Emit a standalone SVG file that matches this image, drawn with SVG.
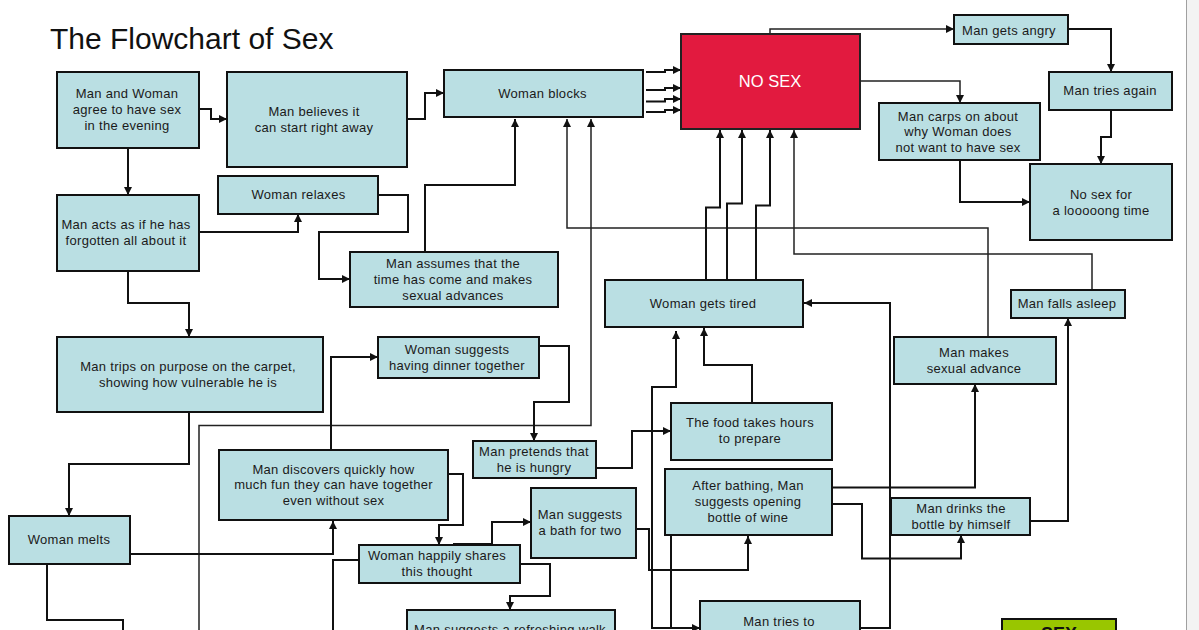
<svg xmlns="http://www.w3.org/2000/svg" width="1199" height="630" viewBox="0 0 1199 630">
<style>
.box{fill:#badfe3;stroke:#111;stroke-width:2}
.t{font-family:"Liberation Sans",Arial,sans-serif;font-size:13px;letter-spacing:0.3px;fill:#1a1a1a;text-anchor:middle}
.c{fill:none;stroke:#111;stroke-width:2}
.thin{stroke-width:1.5;stroke:#222}
</style>
<defs>
<marker id="a" viewBox="0 0 10 10" refX="10" refY="5" markerWidth="8" markerHeight="8" markerUnits="userSpaceOnUse" orient="auto">
<path d="M0,0 L10,5 L0,10 z" fill="#111"/>
</marker>
</defs>
<rect x="0" y="0" width="1199" height="630" fill="#fff"/>
<rect x="1187" y="0" width="12" height="630" fill="#f3f3f3"/>
<line x1="1186.5" y1="0" x2="1186.5" y2="630" stroke="#a0a0a0" stroke-width="1"/>
<text x="50" y="49" font-family="'Liberation Sans',Arial,sans-serif" font-size="30" fill="#111">The Flowchart of Sex</text>

<g id="connectors">
<path class="c" marker-end="url(#a)" d="M199,109 H211 V119 H227"/>
<path class="c" marker-end="url(#a)" d="M407,119 H425 V93 H444"/>
<path class="c" marker-end="url(#a)" d="M646,72 H665 V70 H681"/>
<path class="c" marker-end="url(#a)" d="M646,90 H665 V88 H681"/>
<path class="c" marker-end="url(#a)" d="M646,101.5 H665 V99 H681"/>
<path class="c" marker-end="url(#a)" d="M646,112 H665 V110 H681"/>
<path class="c thin" marker-end="url(#a)" d="M770,34 V29 H954"/>
<path class="c" marker-end="url(#a)" d="M1068,29 H1111 V72"/>
<path class="c thin" marker-end="url(#a)" d="M860,81 H960 V103"/>
<path class="c" marker-end="url(#a)" d="M1111,110 V137 H1101 V164"/>
<path class="c" marker-end="url(#a)" d="M960,160 V202 H1030"/>
<path class="c" marker-end="url(#a)" d="M128,148 V195"/>
<path class="c" marker-end="url(#a)" d="M199,232 H298 V214"/>
<path class="c" marker-end="url(#a)" d="M378,195 H408 V232 H319 V279 H350"/>
<path class="c" marker-end="url(#a)" d="M425,252 V185 H515 V119"/>
<path class="c thin" marker-end="url(#a)" d="M988,337 V228 H567 V119"/>
<path class="c thin" marker-end="url(#a)" d="M199,630 V425.5 H591 V119"/>
<path class="c" marker-end="url(#a)" d="M706,280 V207.5 H720 V130"/>
<path class="c" marker-end="url(#a)" d="M727,280 V203.5 H742 V130"/>
<path class="c" marker-end="url(#a)" d="M756,280 V205.5 H770 V130"/>
<path class="c thin" marker-end="url(#a)" d="M1092,290 V254 H794 V130"/>
<path class="c" marker-end="url(#a)" d="M860,628 H890 V303 H804"/>
<path class="c" marker-end="url(#a)" d="M128,271 V303 H189 V337"/>
<path class="c" marker-end="url(#a)" d="M189,412 V464 H69 V516"/>
<path class="c" d="M47,564 V620 H123 V630"/>
<path class="c" marker-end="url(#a)" d="M131,554 H333 V521"/>
<path class="c" marker-end="url(#a)" d="M331,450 V357 H378"/>
<path class="c" marker-end="url(#a)" d="M539,346 H569 V402 H534 V441"/>
<path class="c" marker-end="url(#a)" d="M445,474 H463 V525 H439 V545"/>
<path class="c" marker-end="url(#a)" d="M453,544 H492 V522 H531"/>
<path class="c" marker-end="url(#a)" d="M520,564 H550 V596 H510 V610"/>
<path class="c" d="M359,560 H333 V630"/>
<path class="c" marker-end="url(#a)" d="M596,468 H632 V431 H671"/>
<path class="c" marker-end="url(#a)" d="M752,403 V365 H704 V328"/>
<path class="c" marker-end="url(#a)" d="M671,628 H652 V387 H676 V331"/>
<path class="c" marker-end="url(#a)" d="M671,535 V628 H700"/>
<path class="c" marker-end="url(#a)" d="M634,529 H649 V570 H748 V536"/>
<path class="c" marker-end="url(#a)" d="M832,487.5 H975 V384"/>
<path class="c" marker-end="url(#a)" d="M832,504 H862 V558.5 H961 V535"/>
<path class="c" marker-end="url(#a)" d="M1030,521 H1068 V318"/>
</g>

<g id="n-agree"><rect class="box" x="57" y="72" width="142" height="76"/>
<text class="t" x="127" y="98">Man and Woman</text><text class="t" x="127" y="114">agree to have sex</text><text class="t" x="127" y="130">in the evening</text></g>
<g id="n-believes"><rect class="box" x="227" y="72" width="180" height="95"/>
<text class="t" x="314" y="115.5">Man believes it</text><text class="t" x="314" y="132">can start right away</text></g>
<g id="n-blocks"><rect class="box" x="444" y="70" width="199" height="47"/>
<text class="t" x="542.5" y="98">Woman blocks</text></g>
<g id="n-nosex"><rect x="681" y="34" width="179" height="95" fill="#e21a3f" stroke="#222" stroke-width="2"/>
<text x="770" y="87" font-family="'Liberation Sans',Arial,sans-serif" font-size="16.5" fill="#fff" text-anchor="middle">NO SEX</text></g>
<g id="n-angry"><rect class="box" x="954" y="15" width="114" height="29"/>
<text class="t" x="1009" y="34.5">Man gets angry</text></g>
<g id="n-again"><rect class="box" x="1049" y="72" width="123" height="38"/>
<text class="t" x="1110" y="95">Man tries again</text></g>
<g id="n-carps"><rect class="box" x="879" y="103" width="161" height="57"/>
<text class="t" x="958" y="120.5">Man carps on about</text><text class="t" x="958" y="136">why Woman does</text><text class="t" x="958" y="152">not want to have sex</text></g>
<g id="n-loooong"><rect class="box" x="1030" y="164" width="142" height="76"/>
<text class="t" x="1101" y="199">No sex for</text><text class="t" x="1101" y="215">a looooong time</text></g>
<g id="n-relaxes"><rect class="box" x="218" y="176" width="160" height="38"/>
<text class="t" x="298.5" y="199">Woman relaxes</text></g>
<g id="n-forgotten"><rect class="box" x="57" y="195" width="142" height="76"/>
<text class="t" x="126" y="228.5">Man acts as if he has</text><text class="t" x="126" y="244.5">forgotten all about it</text></g>
<g id="n-assumes"><rect class="box" x="350" y="252" width="208" height="55"/>
<text class="t" x="453" y="268">Man assumes that the</text><text class="t" x="453" y="284">time has come and makes</text><text class="t" x="453" y="300">sexual advances</text></g>
<g id="n-tired"><rect class="box" x="605" y="280" width="198" height="47"/>
<text class="t" x="703" y="308">Woman gets tired</text></g>
<g id="n-asleep"><rect class="box" x="1011" y="290" width="114" height="28"/>
<text class="t" x="1067" y="308">Man falls asleep</text></g>
<g id="n-advance"><rect class="box" x="894" y="337" width="162" height="47"/>
<text class="t" x="974" y="357">Man makes</text><text class="t" x="974" y="373">sexual advance</text></g>
<g id="n-trips"><rect class="box" x="57" y="337" width="266" height="75"/>
<text class="t" x="188" y="371">Man trips on purpose on the carpet,</text><text class="t" x="188" y="387">showing how vulnerable he is</text></g>
<g id="n-dinner"><rect class="box" x="378" y="337" width="161" height="41"/>
<text class="t" x="457" y="354">Woman suggests</text><text class="t" x="457" y="370">having dinner together</text></g>
<g id="n-food"><rect class="box" x="671" y="403" width="161" height="57"/>
<text class="t" x="750" y="427">The food takes hours</text><text class="t" x="750" y="443">to prepare</text></g>
<g id="n-hungry"><rect class="box" x="473" y="441" width="123" height="37"/>
<text class="t" x="534" y="456">Man pretends that</text><text class="t" x="534" y="472">he is hungry</text></g>
<g id="n-discovers"><rect class="box" x="219" y="450" width="229" height="70"/>
<text class="t" x="333.5" y="473.5">Man discovers quickly how</text><text class="t" x="333.5" y="489">much fun they can have together</text><text class="t" x="333.5" y="505">even without sex</text></g>
<g id="n-wine"><rect class="box" x="665" y="469" width="167" height="66"/>
<text class="t" x="748" y="490">After bathing, Man</text><text class="t" x="748" y="506">suggests opening</text><text class="t" x="748" y="522">bottle of wine</text></g>
<g id="n-drinks"><rect class="box" x="891" y="498" width="139" height="37"/>
<text class="t" x="961" y="513">Man drinks the</text><text class="t" x="961" y="529">bottle by himself</text></g>
<g id="n-bath"><rect class="box" x="531" y="488" width="105" height="70"/>
<text class="t" x="580" y="519">Man suggests</text><text class="t" x="580" y="535">a bath for two</text></g>
<g id="n-melts"><rect class="box" x="9" y="516" width="121" height="48"/>
<text class="t" x="69" y="544">Woman melts</text></g>
<g id="n-shares"><rect class="box" x="359" y="545" width="161" height="38"/>
<text class="t" x="437" y="560">Woman happily shares</text><text class="t" x="437" y="576">this thought</text></g>
<g id="n-walk"><rect class="box" x="407" y="610" width="208" height="40"/>
<text class="t" x="510" y="634">Man suggests a refreshing walk</text></g>
<g id="n-triesto"><rect class="box" x="700" y="601" width="160" height="40"/>
<text class="t" x="779" y="626">Man tries to</text></g>
<g id="n-sex"><rect x="1002" y="619" width="114" height="30" fill="#99c600" stroke="#111" stroke-width="2"/>
<text x="1059" y="640" font-family="'Liberation Sans',Arial,sans-serif" font-size="18" font-weight="bold" fill="#111" text-anchor="middle">SEX</text></g>
</svg>
